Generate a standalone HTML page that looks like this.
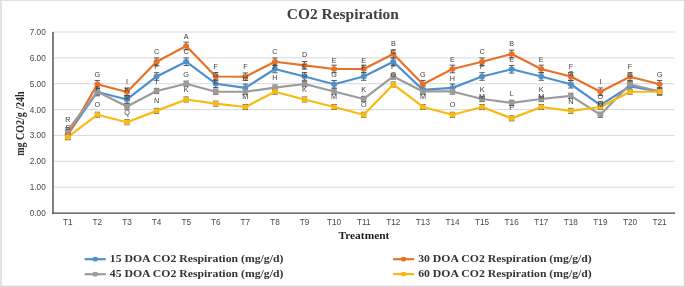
<!DOCTYPE html>
<html><head><meta charset="utf-8"><style>
html,body{margin:0;padding:0;background:#fff;}
body{width:685px;height:287px;overflow:hidden;}
svg{display:block;filter:blur(0.35px);}
.tk{font-family:"Liberation Sans",sans-serif;font-size:8.2px;fill:#484848;}
.ttl{font-family:"Liberation Serif",serif;font-weight:bold;font-size:14px;fill:#404040;}
.ax{font-family:"Liberation Serif",serif;font-weight:bold;font-size:10px;fill:#2a2a2a;}
.ax2{font-family:"Liberation Serif",serif;font-weight:bold;font-size:10.6px;fill:#1f1f1f;}
.lg{font-family:"Liberation Serif",serif;font-weight:bold;font-size:9.3px;fill:#333;}
.lb{font-family:"Liberation Sans",sans-serif;font-size:7.2px;fill:#3a3a3a;}
</style></head><body>
<svg width="685" height="287" viewBox="0 0 685 287">
<rect x="0" y="0" width="685" height="287" fill="#fff"/>
<path d="M0 0.3H685" stroke="#D6D6D6" stroke-width="0.9" fill="none"/><path d="M1 0V287M684.4 0V287M0 286.4H685" stroke="#D6D6D6" stroke-width="1.3" fill="none"/>
<line x1="53.0" y1="187.14" x2="674.4" y2="187.14" stroke="#D9D9D9" stroke-width="1"/>
<line x1="53.0" y1="161.29" x2="674.4" y2="161.29" stroke="#D9D9D9" stroke-width="1"/>
<line x1="53.0" y1="135.43" x2="674.4" y2="135.43" stroke="#D9D9D9" stroke-width="1"/>
<line x1="53.0" y1="109.57" x2="674.4" y2="109.57" stroke="#D9D9D9" stroke-width="1"/>
<line x1="53.0" y1="83.72" x2="674.4" y2="83.72" stroke="#D9D9D9" stroke-width="1"/>
<line x1="53.0" y1="57.86" x2="674.4" y2="57.86" stroke="#D9D9D9" stroke-width="1"/>
<line x1="53.0" y1="32.00" x2="674.4" y2="32.00" stroke="#D9D9D9" stroke-width="1"/>
<line x1="53.0" y1="32.00" x2="53.0" y2="213.60" stroke="#4a4a4a" stroke-width="1.4"/>
<line x1="52.2" y1="213.10" x2="675.0" y2="213.10" stroke="#474747" stroke-width="1.1"/>
<text transform="translate(45.7 216.00) scale(1.0 1)" text-anchor="end" class="tk">0.00</text>
<text transform="translate(45.7 190.14) scale(1.0 1)" text-anchor="end" class="tk">1.00</text>
<text transform="translate(45.7 164.29) scale(1.0 1)" text-anchor="end" class="tk">2.00</text>
<text transform="translate(45.7 138.43) scale(1.0 1)" text-anchor="end" class="tk">3.00</text>
<text transform="translate(45.7 112.57) scale(1.0 1)" text-anchor="end" class="tk">4.00</text>
<text transform="translate(45.7 86.72) scale(1.0 1)" text-anchor="end" class="tk">5.00</text>
<text transform="translate(45.7 60.86) scale(1.0 1)" text-anchor="end" class="tk">6.00</text>
<text transform="translate(45.7 35.00) scale(1.0 1)" text-anchor="end" class="tk">7.00</text>
<text transform="translate(67.80 225.4) scale(1.0 1)" text-anchor="middle" class="tk">T1</text>
<text transform="translate(97.39 225.4) scale(1.0 1)" text-anchor="middle" class="tk">T2</text>
<text transform="translate(126.98 225.4) scale(1.0 1)" text-anchor="middle" class="tk">T3</text>
<text transform="translate(156.57 225.4) scale(1.0 1)" text-anchor="middle" class="tk">T4</text>
<text transform="translate(186.16 225.4) scale(1.0 1)" text-anchor="middle" class="tk">T5</text>
<text transform="translate(215.75 225.4) scale(1.0 1)" text-anchor="middle" class="tk">T6</text>
<text transform="translate(245.34 225.4) scale(1.0 1)" text-anchor="middle" class="tk">T7</text>
<text transform="translate(274.93 225.4) scale(1.0 1)" text-anchor="middle" class="tk">T8</text>
<text transform="translate(304.52 225.4) scale(1.0 1)" text-anchor="middle" class="tk">T9</text>
<text transform="translate(334.11 225.4) scale(1.0 1)" text-anchor="middle" class="tk">T10</text>
<text transform="translate(363.70 225.4) scale(1.0 1)" text-anchor="middle" class="tk">T11</text>
<text transform="translate(393.29 225.4) scale(1.0 1)" text-anchor="middle" class="tk">T12</text>
<text transform="translate(422.88 225.4) scale(1.0 1)" text-anchor="middle" class="tk">T13</text>
<text transform="translate(452.47 225.4) scale(1.0 1)" text-anchor="middle" class="tk">T14</text>
<text transform="translate(482.06 225.4) scale(1.0 1)" text-anchor="middle" class="tk">T15</text>
<text transform="translate(511.65 225.4) scale(1.0 1)" text-anchor="middle" class="tk">T16</text>
<text transform="translate(541.24 225.4) scale(1.0 1)" text-anchor="middle" class="tk">T17</text>
<text transform="translate(570.83 225.4) scale(1.0 1)" text-anchor="middle" class="tk">T18</text>
<text transform="translate(600.42 225.4) scale(1.0 1)" text-anchor="middle" class="tk">T19</text>
<text transform="translate(630.01 225.4) scale(1.0 1)" text-anchor="middle" class="tk">T20</text>
<text transform="translate(659.60 225.4) scale(1.0 1)" text-anchor="middle" class="tk">T21</text>
<path d="M65.10 130.34h5.4M67.80 130.34v7.6M65.10 137.94h5.4" stroke="#484848" stroke-width="0.9" fill="none"/>
<path d="M94.69 88.19h5.4M97.39 88.19v7.6M94.69 95.79h5.4" stroke="#484848" stroke-width="0.9" fill="none"/>
<path d="M124.28 95.69h5.4M126.98 95.69v7.6M124.28 103.29h5.4" stroke="#484848" stroke-width="0.9" fill="none"/>
<path d="M153.87 72.68h5.4M156.57 72.68v7.6M153.87 80.28h5.4" stroke="#484848" stroke-width="0.9" fill="none"/>
<path d="M183.46 57.94h5.4M186.16 57.94v7.6M183.46 65.54h5.4" stroke="#484848" stroke-width="0.9" fill="none"/>
<path d="M213.05 79.92h5.4M215.75 79.92v7.6M213.05 87.52h5.4" stroke="#484848" stroke-width="0.9" fill="none"/>
<path d="M242.64 84.05h5.4M245.34 84.05v7.6M242.64 91.65h5.4" stroke="#484848" stroke-width="0.9" fill="none"/>
<path d="M272.23 65.18h5.4M274.93 65.18v7.6M272.23 72.78h5.4" stroke="#484848" stroke-width="0.9" fill="none"/>
<path d="M301.82 72.68h5.4M304.52 72.68v7.6M301.82 80.28h5.4" stroke="#484848" stroke-width="0.9" fill="none"/>
<path d="M331.41 80.43h5.4M334.11 80.43v7.6M331.41 88.03h5.4" stroke="#484848" stroke-width="0.9" fill="none"/>
<path d="M361.00 72.68h5.4M363.70 72.68v7.6M361.00 80.28h5.4" stroke="#484848" stroke-width="0.9" fill="none"/>
<path d="M390.59 57.94h5.4M393.29 57.94v7.6M390.59 65.54h5.4" stroke="#484848" stroke-width="0.9" fill="none"/>
<path d="M420.18 86.12h5.4M422.88 86.12v7.6M420.18 93.72h5.4" stroke="#484848" stroke-width="0.9" fill="none"/>
<path d="M449.77 84.05h5.4M452.47 84.05v7.6M449.77 91.65h5.4" stroke="#484848" stroke-width="0.9" fill="none"/>
<path d="M479.36 72.68h5.4M482.06 72.68v7.6M479.36 80.28h5.4" stroke="#484848" stroke-width="0.9" fill="none"/>
<path d="M508.95 65.44h5.4M511.65 65.44v7.6M508.95 73.04h5.4" stroke="#484848" stroke-width="0.9" fill="none"/>
<path d="M538.54 72.68h5.4M541.24 72.68v7.6M538.54 80.28h5.4" stroke="#484848" stroke-width="0.9" fill="none"/>
<path d="M568.13 80.43h5.4M570.83 80.43v7.6M568.13 88.03h5.4" stroke="#484848" stroke-width="0.9" fill="none"/>
<path d="M597.72 101.38h5.4M600.42 101.38v7.6M597.72 108.98h5.4" stroke="#484848" stroke-width="0.9" fill="none"/>
<path d="M627.31 82.50h5.4M630.01 82.50v7.6M627.31 90.10h5.4" stroke="#484848" stroke-width="0.9" fill="none"/>
<path d="M656.90 87.67h5.4M659.60 87.67v7.6M656.90 95.27h5.4" stroke="#484848" stroke-width="0.9" fill="none"/>
<path d="M65.10 131.63h5.4M67.80 131.63v7.6M65.10 139.23h5.4" stroke="#484848" stroke-width="0.9" fill="none"/>
<path d="M94.69 80.43h5.4M97.39 80.43v7.6M94.69 88.03h5.4" stroke="#484848" stroke-width="0.9" fill="none"/>
<path d="M124.28 88.19h5.4M126.98 88.19v7.6M124.28 95.79h5.4" stroke="#484848" stroke-width="0.9" fill="none"/>
<path d="M153.87 57.94h5.4M156.57 57.94v7.6M153.87 65.54h5.4" stroke="#484848" stroke-width="0.9" fill="none"/>
<path d="M183.46 42.16h5.4M186.16 42.16v7.6M183.46 49.76h5.4" stroke="#484848" stroke-width="0.9" fill="none"/>
<path d="M213.05 72.68h5.4M215.75 72.68v7.6M213.05 80.28h5.4" stroke="#484848" stroke-width="0.9" fill="none"/>
<path d="M242.64 72.93h5.4M245.34 72.93v7.6M242.64 80.53h5.4" stroke="#484848" stroke-width="0.9" fill="none"/>
<path d="M272.23 57.94h5.4M274.93 57.94v7.6M272.23 65.54h5.4" stroke="#484848" stroke-width="0.9" fill="none"/>
<path d="M301.82 61.56h5.4M304.52 61.56v7.6M301.82 69.16h5.4" stroke="#484848" stroke-width="0.9" fill="none"/>
<path d="M331.41 65.18h5.4M334.11 65.18v7.6M331.41 72.78h5.4" stroke="#484848" stroke-width="0.9" fill="none"/>
<path d="M361.00 65.18h5.4M363.70 65.18v7.6M361.00 72.78h5.4" stroke="#484848" stroke-width="0.9" fill="none"/>
<path d="M390.59 50.18h5.4M393.29 50.18v7.6M390.59 57.78h5.4" stroke="#484848" stroke-width="0.9" fill="none"/>
<path d="M420.18 80.43h5.4M422.88 80.43v7.6M420.18 88.03h5.4" stroke="#484848" stroke-width="0.9" fill="none"/>
<path d="M449.77 65.18h5.4M452.47 65.18v7.6M449.77 72.78h5.4" stroke="#484848" stroke-width="0.9" fill="none"/>
<path d="M479.36 57.94h5.4M482.06 57.94v7.6M479.36 65.54h5.4" stroke="#484848" stroke-width="0.9" fill="none"/>
<path d="M508.95 50.18h5.4M511.65 50.18v7.6M508.95 57.78h5.4" stroke="#484848" stroke-width="0.9" fill="none"/>
<path d="M538.54 65.18h5.4M541.24 65.18v7.6M538.54 72.78h5.4" stroke="#484848" stroke-width="0.9" fill="none"/>
<path d="M568.13 72.68h5.4M570.83 72.68v7.6M568.13 80.28h5.4" stroke="#484848" stroke-width="0.9" fill="none"/>
<path d="M597.72 87.93h5.4M600.42 87.93v7.6M597.72 95.53h5.4" stroke="#484848" stroke-width="0.9" fill="none"/>
<path d="M627.31 72.93h5.4M630.01 72.93v7.6M627.31 80.53h5.4" stroke="#484848" stroke-width="0.9" fill="none"/>
<path d="M656.90 80.43h5.4M659.60 80.43v7.6M656.90 88.03h5.4" stroke="#484848" stroke-width="0.9" fill="none"/>
<path d="M65.10 127.66h5.4M67.80 127.66v5.2M65.10 132.86h5.4" stroke="#484848" stroke-width="0.9" fill="none"/>
<path d="M94.69 89.13h5.4M97.39 89.13v5.2M94.69 94.33h5.4" stroke="#484848" stroke-width="0.9" fill="none"/>
<path d="M124.28 103.87h5.4M126.98 103.87v5.2M124.28 109.07h5.4" stroke="#484848" stroke-width="0.9" fill="none"/>
<path d="M153.87 88.35h5.4M156.57 88.35v5.2M153.87 93.55h5.4" stroke="#484848" stroke-width="0.9" fill="none"/>
<path d="M183.46 81.12h5.4M186.16 81.12v5.2M183.46 86.31h5.4" stroke="#484848" stroke-width="0.9" fill="none"/>
<path d="M213.05 89.13h5.4M215.75 89.13v5.2M213.05 94.33h5.4" stroke="#484848" stroke-width="0.9" fill="none"/>
<path d="M242.64 89.13h5.4M245.34 89.13v5.2M242.64 94.33h5.4" stroke="#484848" stroke-width="0.9" fill="none"/>
<path d="M272.23 84.99h5.4M274.93 84.99v5.2M272.23 90.19h5.4" stroke="#484848" stroke-width="0.9" fill="none"/>
<path d="M301.82 81.37h5.4M304.52 81.37v5.2M301.82 86.57h5.4" stroke="#484848" stroke-width="0.9" fill="none"/>
<path d="M331.41 88.87h5.4M334.11 88.87v5.2M331.41 94.07h5.4" stroke="#484848" stroke-width="0.9" fill="none"/>
<path d="M361.00 96.37h5.4M363.70 96.37v5.2M361.00 101.57h5.4" stroke="#484848" stroke-width="0.9" fill="none"/>
<path d="M390.59 73.88h5.4M393.29 73.88v5.2M390.59 79.08h5.4" stroke="#484848" stroke-width="0.9" fill="none"/>
<path d="M420.18 88.87h5.4M422.88 88.87v5.2M420.18 94.07h5.4" stroke="#484848" stroke-width="0.9" fill="none"/>
<path d="M449.77 88.87h5.4M452.47 88.87v5.2M449.77 94.07h5.4" stroke="#484848" stroke-width="0.9" fill="none"/>
<path d="M479.36 96.37h5.4M482.06 96.37v5.2M479.36 101.57h5.4" stroke="#484848" stroke-width="0.9" fill="none"/>
<path d="M508.95 100.25h5.4M511.65 100.25v5.2M508.95 105.45h5.4" stroke="#484848" stroke-width="0.9" fill="none"/>
<path d="M538.54 96.37h5.4M541.24 96.37v5.2M538.54 101.57h5.4" stroke="#484848" stroke-width="0.9" fill="none"/>
<path d="M568.13 93.27h5.4M570.83 93.27v5.2M568.13 98.47h5.4" stroke="#484848" stroke-width="0.9" fill="none"/>
<path d="M597.72 112.14h5.4M600.42 112.14v5.2M597.72 117.34h5.4" stroke="#484848" stroke-width="0.9" fill="none"/>
<path d="M627.31 81.63h5.4M630.01 81.63v5.2M627.31 86.83h5.4" stroke="#484848" stroke-width="0.9" fill="none"/>
<path d="M656.90 88.87h5.4M659.60 88.87v5.2M656.90 94.07h5.4" stroke="#484848" stroke-width="0.9" fill="none"/>
<path d="M65.10 134.74h5.4M67.80 134.74v5.0M65.10 139.74h5.4" stroke="#484848" stroke-width="0.9" fill="none"/>
<path d="M94.69 112.24h5.4M97.39 112.24v5.0M94.69 117.24h5.4" stroke="#484848" stroke-width="0.9" fill="none"/>
<path d="M124.28 119.74h5.4M126.98 119.74v5.0M124.28 124.74h5.4" stroke="#484848" stroke-width="0.9" fill="none"/>
<path d="M153.87 108.36h5.4M156.57 108.36v5.0M153.87 113.36h5.4" stroke="#484848" stroke-width="0.9" fill="none"/>
<path d="M183.46 96.99h5.4M186.16 96.99v5.0M183.46 101.99h5.4" stroke="#484848" stroke-width="0.9" fill="none"/>
<path d="M213.05 101.12h5.4M215.75 101.12v5.0M213.05 106.12h5.4" stroke="#484848" stroke-width="0.9" fill="none"/>
<path d="M242.64 104.49h5.4M245.34 104.49v5.0M242.64 109.49h5.4" stroke="#484848" stroke-width="0.9" fill="none"/>
<path d="M272.23 89.23h5.4M274.93 89.23v5.0M272.23 94.23h5.4" stroke="#484848" stroke-width="0.9" fill="none"/>
<path d="M301.82 96.99h5.4M304.52 96.99v5.0M301.82 101.99h5.4" stroke="#484848" stroke-width="0.9" fill="none"/>
<path d="M331.41 104.49h5.4M334.11 104.49v5.0M331.41 109.49h5.4" stroke="#484848" stroke-width="0.9" fill="none"/>
<path d="M361.00 112.24h5.4M363.70 112.24v5.0M361.00 117.24h5.4" stroke="#484848" stroke-width="0.9" fill="none"/>
<path d="M390.59 81.99h5.4M393.29 81.99v5.0M390.59 86.99h5.4" stroke="#484848" stroke-width="0.9" fill="none"/>
<path d="M420.18 104.49h5.4M422.88 104.49v5.0M420.18 109.49h5.4" stroke="#484848" stroke-width="0.9" fill="none"/>
<path d="M449.77 112.24h5.4M452.47 112.24v5.0M449.77 117.24h5.4" stroke="#484848" stroke-width="0.9" fill="none"/>
<path d="M479.36 104.49h5.4M482.06 104.49v5.0M479.36 109.49h5.4" stroke="#484848" stroke-width="0.9" fill="none"/>
<path d="M508.95 115.86h5.4M511.65 115.86v5.0M508.95 120.86h5.4" stroke="#484848" stroke-width="0.9" fill="none"/>
<path d="M538.54 104.49h5.4M541.24 104.49v5.0M538.54 109.49h5.4" stroke="#484848" stroke-width="0.9" fill="none"/>
<path d="M568.13 108.36h5.4M570.83 108.36v5.0M568.13 113.36h5.4" stroke="#484848" stroke-width="0.9" fill="none"/>
<path d="M597.72 104.49h5.4M600.42 104.49v5.0M597.72 109.49h5.4" stroke="#484848" stroke-width="0.9" fill="none"/>
<path d="M627.31 89.23h5.4M630.01 89.23v5.0M627.31 94.23h5.4" stroke="#484848" stroke-width="0.9" fill="none"/>
<path d="M656.90 89.23h5.4M659.60 89.23v5.0M656.90 94.23h5.4" stroke="#484848" stroke-width="0.9" fill="none"/>
<polyline points="67.80,134.14 97.39,91.99 126.98,99.49 156.57,76.48 186.16,61.74 215.75,83.72 245.34,87.85 274.93,68.98 304.52,76.48 334.11,84.23 363.70,76.48 393.29,61.74 422.88,89.92 452.47,87.85 482.06,76.48 511.65,69.24 541.24,76.48 570.83,84.23 600.42,105.18 630.01,86.30 659.60,91.47" fill="none" stroke="#4F8FCD" stroke-width="2.2" stroke-linejoin="round" stroke-linecap="round"/>
<polyline points="67.80,135.43 97.39,84.23 126.98,91.99 156.57,61.74 186.16,45.96 215.75,76.48 245.34,76.73 274.93,61.74 304.52,65.36 334.11,68.98 363.70,68.98 393.29,53.98 422.88,84.23 452.47,68.98 482.06,61.74 511.65,53.98 541.24,68.98 570.83,76.48 600.42,91.73 630.01,76.73 659.60,84.23" fill="none" stroke="#E6722A" stroke-width="2.2" stroke-linejoin="round" stroke-linecap="round"/>
<polyline points="67.80,130.26 97.39,91.73 126.98,106.47 156.57,90.95 186.16,83.72 215.75,91.73 245.34,91.73 274.93,87.59 304.52,83.97 334.11,91.47 363.70,98.97 393.29,76.48 422.88,91.47 452.47,91.47 482.06,98.97 511.65,102.85 541.24,98.97 570.83,95.87 600.42,114.74 630.01,84.23 659.60,91.47" fill="none" stroke="#9B9B9B" stroke-width="2.2" stroke-linejoin="round" stroke-linecap="round"/>
<polyline points="67.80,137.24 97.39,114.74 126.98,122.24 156.57,110.86 186.16,99.49 215.75,103.62 245.34,106.99 274.93,91.73 304.52,99.49 334.11,106.99 363.70,114.74 393.29,84.49 422.88,106.99 452.47,114.74 482.06,106.99 511.65,118.36 541.24,106.99 570.83,110.86 600.42,106.99 630.01,91.73 659.60,91.73" fill="none" stroke="#F8B910" stroke-width="2.2" stroke-linejoin="round" stroke-linecap="round"/>
<ellipse cx="67.80" cy="134.14" rx="3.0" ry="2.7" fill="#4F8FCD"/>
<ellipse cx="97.39" cy="91.99" rx="3.0" ry="2.7" fill="#4F8FCD"/>
<ellipse cx="126.98" cy="99.49" rx="3.0" ry="2.7" fill="#4F8FCD"/>
<ellipse cx="156.57" cy="76.48" rx="3.0" ry="2.7" fill="#4F8FCD"/>
<ellipse cx="186.16" cy="61.74" rx="3.0" ry="2.7" fill="#4F8FCD"/>
<ellipse cx="215.75" cy="83.72" rx="3.0" ry="2.7" fill="#4F8FCD"/>
<ellipse cx="245.34" cy="87.85" rx="3.0" ry="2.7" fill="#4F8FCD"/>
<ellipse cx="274.93" cy="68.98" rx="3.0" ry="2.7" fill="#4F8FCD"/>
<ellipse cx="304.52" cy="76.48" rx="3.0" ry="2.7" fill="#4F8FCD"/>
<ellipse cx="334.11" cy="84.23" rx="3.0" ry="2.7" fill="#4F8FCD"/>
<ellipse cx="363.70" cy="76.48" rx="3.0" ry="2.7" fill="#4F8FCD"/>
<ellipse cx="393.29" cy="61.74" rx="3.0" ry="2.7" fill="#4F8FCD"/>
<ellipse cx="422.88" cy="89.92" rx="3.0" ry="2.7" fill="#4F8FCD"/>
<ellipse cx="452.47" cy="87.85" rx="3.0" ry="2.7" fill="#4F8FCD"/>
<ellipse cx="482.06" cy="76.48" rx="3.0" ry="2.7" fill="#4F8FCD"/>
<ellipse cx="511.65" cy="69.24" rx="3.0" ry="2.7" fill="#4F8FCD"/>
<ellipse cx="541.24" cy="76.48" rx="3.0" ry="2.7" fill="#4F8FCD"/>
<ellipse cx="570.83" cy="84.23" rx="3.0" ry="2.7" fill="#4F8FCD"/>
<ellipse cx="600.42" cy="105.18" rx="3.0" ry="2.7" fill="#4F8FCD"/>
<ellipse cx="630.01" cy="86.30" rx="3.0" ry="2.7" fill="#4F8FCD"/>
<ellipse cx="659.60" cy="91.47" rx="3.0" ry="2.7" fill="#4F8FCD"/>
<ellipse cx="67.80" cy="135.43" rx="3.0" ry="2.7" fill="#E6722A"/>
<ellipse cx="97.39" cy="84.23" rx="3.0" ry="2.7" fill="#E6722A"/>
<ellipse cx="126.98" cy="91.99" rx="3.0" ry="2.7" fill="#E6722A"/>
<ellipse cx="156.57" cy="61.74" rx="3.0" ry="2.7" fill="#E6722A"/>
<ellipse cx="186.16" cy="45.96" rx="3.0" ry="2.7" fill="#E6722A"/>
<ellipse cx="215.75" cy="76.48" rx="3.0" ry="2.7" fill="#E6722A"/>
<ellipse cx="245.34" cy="76.73" rx="3.0" ry="2.7" fill="#E6722A"/>
<ellipse cx="274.93" cy="61.74" rx="3.0" ry="2.7" fill="#E6722A"/>
<ellipse cx="304.52" cy="65.36" rx="3.0" ry="2.7" fill="#E6722A"/>
<ellipse cx="334.11" cy="68.98" rx="3.0" ry="2.7" fill="#E6722A"/>
<ellipse cx="363.70" cy="68.98" rx="3.0" ry="2.7" fill="#E6722A"/>
<ellipse cx="393.29" cy="53.98" rx="3.0" ry="2.7" fill="#E6722A"/>
<ellipse cx="422.88" cy="84.23" rx="3.0" ry="2.7" fill="#E6722A"/>
<ellipse cx="452.47" cy="68.98" rx="3.0" ry="2.7" fill="#E6722A"/>
<ellipse cx="482.06" cy="61.74" rx="3.0" ry="2.7" fill="#E6722A"/>
<ellipse cx="511.65" cy="53.98" rx="3.0" ry="2.7" fill="#E6722A"/>
<ellipse cx="541.24" cy="68.98" rx="3.0" ry="2.7" fill="#E6722A"/>
<ellipse cx="570.83" cy="76.48" rx="3.0" ry="2.7" fill="#E6722A"/>
<ellipse cx="600.42" cy="91.73" rx="3.0" ry="2.7" fill="#E6722A"/>
<ellipse cx="630.01" cy="76.73" rx="3.0" ry="2.7" fill="#E6722A"/>
<ellipse cx="659.60" cy="84.23" rx="3.0" ry="2.7" fill="#E6722A"/>
<ellipse cx="67.80" cy="130.26" rx="3.0" ry="2.7" fill="#9B9B9B"/>
<ellipse cx="97.39" cy="91.73" rx="3.0" ry="2.7" fill="#9B9B9B"/>
<ellipse cx="126.98" cy="106.47" rx="3.0" ry="2.7" fill="#9B9B9B"/>
<ellipse cx="156.57" cy="90.95" rx="3.0" ry="2.7" fill="#9B9B9B"/>
<ellipse cx="186.16" cy="83.72" rx="3.0" ry="2.7" fill="#9B9B9B"/>
<ellipse cx="215.75" cy="91.73" rx="3.0" ry="2.7" fill="#9B9B9B"/>
<ellipse cx="245.34" cy="91.73" rx="3.0" ry="2.7" fill="#9B9B9B"/>
<ellipse cx="274.93" cy="87.59" rx="3.0" ry="2.7" fill="#9B9B9B"/>
<ellipse cx="304.52" cy="83.97" rx="3.0" ry="2.7" fill="#9B9B9B"/>
<ellipse cx="334.11" cy="91.47" rx="3.0" ry="2.7" fill="#9B9B9B"/>
<ellipse cx="363.70" cy="98.97" rx="3.0" ry="2.7" fill="#9B9B9B"/>
<ellipse cx="393.29" cy="76.48" rx="3.0" ry="2.7" fill="#9B9B9B"/>
<ellipse cx="422.88" cy="91.47" rx="3.0" ry="2.7" fill="#9B9B9B"/>
<ellipse cx="452.47" cy="91.47" rx="3.0" ry="2.7" fill="#9B9B9B"/>
<ellipse cx="482.06" cy="98.97" rx="3.0" ry="2.7" fill="#9B9B9B"/>
<ellipse cx="511.65" cy="102.85" rx="3.0" ry="2.7" fill="#9B9B9B"/>
<ellipse cx="541.24" cy="98.97" rx="3.0" ry="2.7" fill="#9B9B9B"/>
<ellipse cx="570.83" cy="95.87" rx="3.0" ry="2.7" fill="#9B9B9B"/>
<ellipse cx="600.42" cy="114.74" rx="3.0" ry="2.7" fill="#9B9B9B"/>
<ellipse cx="630.01" cy="84.23" rx="3.0" ry="2.7" fill="#9B9B9B"/>
<ellipse cx="659.60" cy="91.47" rx="3.0" ry="2.7" fill="#9B9B9B"/>
<ellipse cx="67.80" cy="137.24" rx="3.0" ry="2.7" fill="#F8B910"/>
<ellipse cx="97.39" cy="114.74" rx="3.0" ry="2.7" fill="#F8B910"/>
<ellipse cx="126.98" cy="122.24" rx="3.0" ry="2.7" fill="#F8B910"/>
<ellipse cx="156.57" cy="110.86" rx="3.0" ry="2.7" fill="#F8B910"/>
<ellipse cx="186.16" cy="99.49" rx="3.0" ry="2.7" fill="#F8B910"/>
<ellipse cx="215.75" cy="103.62" rx="3.0" ry="2.7" fill="#F8B910"/>
<ellipse cx="245.34" cy="106.99" rx="3.0" ry="2.7" fill="#F8B910"/>
<ellipse cx="274.93" cy="91.73" rx="3.0" ry="2.7" fill="#F8B910"/>
<ellipse cx="304.52" cy="99.49" rx="3.0" ry="2.7" fill="#F8B910"/>
<ellipse cx="334.11" cy="106.99" rx="3.0" ry="2.7" fill="#F8B910"/>
<ellipse cx="363.70" cy="114.74" rx="3.0" ry="2.7" fill="#F8B910"/>
<ellipse cx="393.29" cy="84.49" rx="3.0" ry="2.7" fill="#F8B910"/>
<ellipse cx="422.88" cy="106.99" rx="3.0" ry="2.7" fill="#F8B910"/>
<ellipse cx="452.47" cy="114.74" rx="3.0" ry="2.7" fill="#F8B910"/>
<ellipse cx="482.06" cy="106.99" rx="3.0" ry="2.7" fill="#F8B910"/>
<ellipse cx="511.65" cy="118.36" rx="3.0" ry="2.7" fill="#F8B910"/>
<ellipse cx="541.24" cy="106.99" rx="3.0" ry="2.7" fill="#F8B910"/>
<ellipse cx="570.83" cy="110.86" rx="3.0" ry="2.7" fill="#F8B910"/>
<ellipse cx="600.42" cy="106.99" rx="3.0" ry="2.7" fill="#F8B910"/>
<ellipse cx="630.01" cy="91.73" rx="3.0" ry="2.7" fill="#F8B910"/>
<ellipse cx="659.60" cy="91.73" rx="3.0" ry="2.7" fill="#F8B910"/>
<text x="67.80" y="122.40" text-anchor="middle" class="lb">R</text>
<text x="67.80" y="129.60" text-anchor="middle" class="lb">S</text>
<text x="97.39" y="76.80" text-anchor="middle" class="lb">G</text>
<text x="97.39" y="90.80" text-anchor="middle" class="lb">F</text>
<text x="97.39" y="107.00" text-anchor="middle" class="lb">O</text>
<text x="126.98" y="84.20" text-anchor="middle" class="lb">I</text>
<text x="126.98" y="91.70" text-anchor="middle" class="lb">K</text>
<text x="126.98" y="99.50" text-anchor="middle" class="lb">M</text>
<text x="126.98" y="114.50" text-anchor="middle" class="lb">Q</text>
<text x="156.57" y="54.10" text-anchor="middle" class="lb">C</text>
<text x="156.57" y="69.20" text-anchor="middle" class="lb">F</text>
<text x="156.57" y="83.60" text-anchor="middle" class="lb">I</text>
<text x="156.57" y="103.10" text-anchor="middle" class="lb">N</text>
<text x="186.16" y="38.80" text-anchor="middle" class="lb">A</text>
<text x="186.16" y="54.30" text-anchor="middle" class="lb">C</text>
<text x="186.16" y="76.50" text-anchor="middle" class="lb">G</text>
<text x="186.16" y="92.40" text-anchor="middle" class="lb">K</text>
<text x="215.75" y="69.10" text-anchor="middle" class="lb">F</text>
<text x="215.75" y="76.80" text-anchor="middle" class="lb">G</text>
<text x="215.75" y="83.60" text-anchor="middle" class="lb">L</text>
<text x="245.34" y="68.90" text-anchor="middle" class="lb">F</text>
<text x="245.34" y="80.00" text-anchor="middle" class="lb">H</text>
<text x="245.34" y="98.90" text-anchor="middle" class="lb">M</text>
<text x="274.93" y="53.90" text-anchor="middle" class="lb">C</text>
<text x="274.93" y="68.50" text-anchor="middle" class="lb">F</text>
<text x="274.93" y="80.40" text-anchor="middle" class="lb">H</text>
<text x="304.52" y="57.00" text-anchor="middle" class="lb">D</text>
<text x="304.52" y="68.60" text-anchor="middle" class="lb">E</text>
<text x="304.52" y="76.90" text-anchor="middle" class="lb">G</text>
<text x="304.52" y="91.60" text-anchor="middle" class="lb">K</text>
<text x="334.11" y="62.50" text-anchor="middle" class="lb">E</text>
<text x="334.11" y="76.50" text-anchor="middle" class="lb">G</text>
<text x="334.11" y="98.60" text-anchor="middle" class="lb">M</text>
<text x="363.70" y="62.50" text-anchor="middle" class="lb">E</text>
<text x="363.70" y="69.60" text-anchor="middle" class="lb">F</text>
<text x="363.70" y="91.80" text-anchor="middle" class="lb">K</text>
<text x="363.70" y="107.30" text-anchor="middle" class="lb">O</text>
<text x="393.29" y="46.40" text-anchor="middle" class="lb">B</text>
<text x="393.29" y="54.10" text-anchor="middle" class="lb">C</text>
<text x="393.29" y="68.80" text-anchor="middle" class="lb">F</text>
<text x="393.29" y="77.10" text-anchor="middle" class="lb">G</text>
<text x="422.88" y="76.70" text-anchor="middle" class="lb">G</text>
<text x="422.88" y="99.00" text-anchor="middle" class="lb">M</text>
<text x="452.47" y="61.60" text-anchor="middle" class="lb">E</text>
<text x="452.47" y="80.80" text-anchor="middle" class="lb">H</text>
<text x="452.47" y="107.40" text-anchor="middle" class="lb">O</text>
<text x="482.06" y="54.30" text-anchor="middle" class="lb">C</text>
<text x="482.06" y="69.30" text-anchor="middle" class="lb">F</text>
<text x="482.06" y="91.90" text-anchor="middle" class="lb">K</text>
<text x="482.06" y="99.00" text-anchor="middle" class="lb">M</text>
<text x="511.65" y="46.40" text-anchor="middle" class="lb">B</text>
<text x="511.65" y="62.30" text-anchor="middle" class="lb">E</text>
<text x="511.65" y="96.20" text-anchor="middle" class="lb">L</text>
<text x="511.65" y="110.40" text-anchor="middle" class="lb">P</text>
<text x="541.24" y="61.70" text-anchor="middle" class="lb">E</text>
<text x="541.24" y="92.00" text-anchor="middle" class="lb">K</text>
<text x="541.24" y="99.30" text-anchor="middle" class="lb">M</text>
<text x="570.83" y="69.00" text-anchor="middle" class="lb">F</text>
<text x="570.83" y="76.30" text-anchor="middle" class="lb">G</text>
<text x="570.83" y="103.50" text-anchor="middle" class="lb">N</text>
<text x="600.42" y="84.40" text-anchor="middle" class="lb">I</text>
<text x="600.42" y="98.70" text-anchor="middle" class="lb">O</text>
<text x="600.42" y="107.40" text-anchor="middle" class="lb">M</text>
<text x="630.01" y="69.10" text-anchor="middle" class="lb">F</text>
<text x="630.01" y="76.80" text-anchor="middle" class="lb">G</text>
<text x="659.60" y="76.80" text-anchor="middle" class="lb">G</text>
<text x="286.8" y="18.6" class="ttl" textLength="112" lengthAdjust="spacingAndGlyphs">CO2 Respiration</text>
<text x="363.9" y="238.6" text-anchor="middle" class="ax2" textLength="51" lengthAdjust="spacingAndGlyphs">Treatment</text>
<text transform="translate(23.7 123.6) scale(1.2 1) rotate(-90)" text-anchor="middle" class="ax">mg CO2/g /24h</text>
<line x1="84.7" y1="259.2" x2="105.7" y2="259.2" stroke="#4F8FCD" stroke-width="2.2"/>
<ellipse cx="95.2" cy="259.2" rx="2.7" ry="2.4" fill="#4F8FCD"/>
<text x="109.80000000000001" y="261.59999999999997" class="lg" textLength="173.6" lengthAdjust="spacingAndGlyphs">15 DOA CO2 Respiration (mg/g/d)</text>
<line x1="84.7" y1="274.2" x2="105.7" y2="274.2" stroke="#9B9B9B" stroke-width="2.2"/>
<ellipse cx="95.2" cy="274.2" rx="2.7" ry="2.4" fill="#9B9B9B"/>
<text x="109.80000000000001" y="276.59999999999997" class="lg" textLength="173.6" lengthAdjust="spacingAndGlyphs">45 DOA CO2 Respiration (mg/g/d)</text>
<line x1="393.1" y1="259.2" x2="414.1" y2="259.2" stroke="#E6722A" stroke-width="2.2"/>
<ellipse cx="403.6" cy="259.2" rx="2.7" ry="2.4" fill="#E6722A"/>
<text x="418.20000000000005" y="261.59999999999997" class="lg" textLength="173.6" lengthAdjust="spacingAndGlyphs">30 DOA CO2 Respiration (mg/g/d)</text>
<line x1="393.1" y1="274.1" x2="414.1" y2="274.1" stroke="#F8B910" stroke-width="2.2"/>
<ellipse cx="403.6" cy="274.1" rx="2.7" ry="2.4" fill="#F8B910"/>
<text x="418.20000000000005" y="276.5" class="lg" textLength="173.6" lengthAdjust="spacingAndGlyphs">60 DOA CO2 Respiration (mg/g/d)</text>
</svg>
</body></html>
